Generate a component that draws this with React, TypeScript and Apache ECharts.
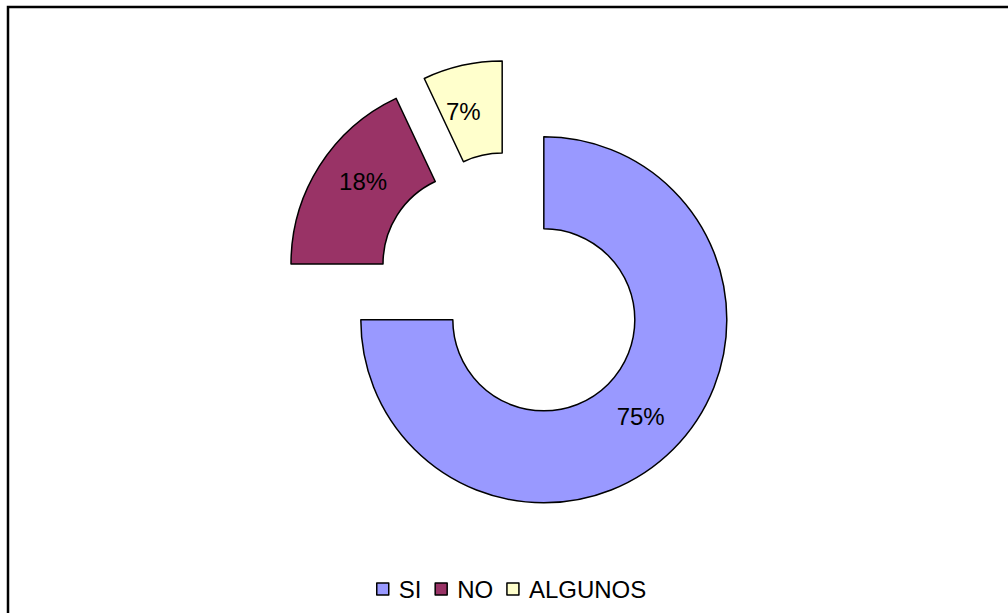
import React, { useEffect, useRef } from "react";
import * as echarts from "echarts";

const categories = ["SI", "NO", "ALGUNOS"];
const values = [75, 18, 7];
const colors = ["#9999FF", "#993366", "#FFFFCC"];

const CENTER = [512, 288];
const R0 = 91;
const R = 183;
const OFFSET = 45;

export default function App() {
  const ref = useRef<HTMLDivElement>(null);
  useEffect(() => {
    if (!ref.current) return;
    const chart = echarts.init(ref.current, null, { renderer: "svg" });
    const baseItem = { borderColor: "#000", borderWidth: 1.5 };
    const baseLabel = {
      show: true,
      position: "inside",
      formatter: "{c}%",
      color: "#000",
      fontSize: 24,
      fontFamily: "Liberation Sans, Arial, sans-serif",
    };
    const total = values.reduce((a, b) => a + b, 0);
    // For slices wider than a half circle ECharts centres the inside label;
    // push it back out to the middle radius along the slice bisector.
    const labelOffset = (i: number) => {
      if (values[i] / total <= 0.5) return [0, 0];
      const cum = values.slice(0, i).reduce((a, b) => a + b, 0);
      const theta = ((cum + values[i] / 2) / total) * Math.PI * 2;
      const mid = (R + R0) / 2;
      return [Math.sin(theta) * mid, -Math.cos(theta) * mid];
    };
    chart.setOption({
      animation: false,
      backgroundColor: "#fff",
      graphic: [
        {
          type: "rect",
          shape: { x: 8, y: 7, width: 1100, height: 700 },
          style: { fill: "none", stroke: "#000", lineWidth: 2.5 },
          silent: true,
        },
      ],
      legend: {
        data: categories,
        left: 376,
        top: 577,
        padding: 0,
        icon: "rect",
        itemWidth: 12,
        itemHeight: 12,
        itemGap: 13,
        selectedMode: false,
        textStyle: {
          color: "#000",
          fontSize: 24,
          fontFamily: "Liberation Sans, Arial, sans-serif",
          padding: [0, 0, 0, 5],
        },
        itemStyle: { borderColor: "#000", borderWidth: 1.5 },
      },
      series: [
        {
          type: "pie",
          center: CENTER,
          radius: [R0, R],
          startAngle: 90,
          clockwise: true,
          selectedMode: "multiple",
          selectedOffset: OFFSET,
          avoidLabelOverlap: false,
          label: baseLabel,
          labelLine: { show: false },
          itemStyle: baseItem,
          emphasis: { disabled: true },
          select: { itemStyle: baseItem, label: baseLabel },
          data: categories.map((name, i) => {
            const lbl = { ...baseLabel, offset: labelOffset(i) };
            return {
              name,
              value: values[i],
              selected: true,
              itemStyle: { color: colors[i] },
              label: lbl,
              select: { itemStyle: { color: colors[i], ...baseItem }, label: lbl },
            };
          }),
        },
      ],
    });
    return () => chart.dispose();
  }, []);
  return (
    <div
      ref={ref}
      style={{ position: "fixed", left: 0, top: 0, width: 1008, height: 613 }}
    />
  );
}
